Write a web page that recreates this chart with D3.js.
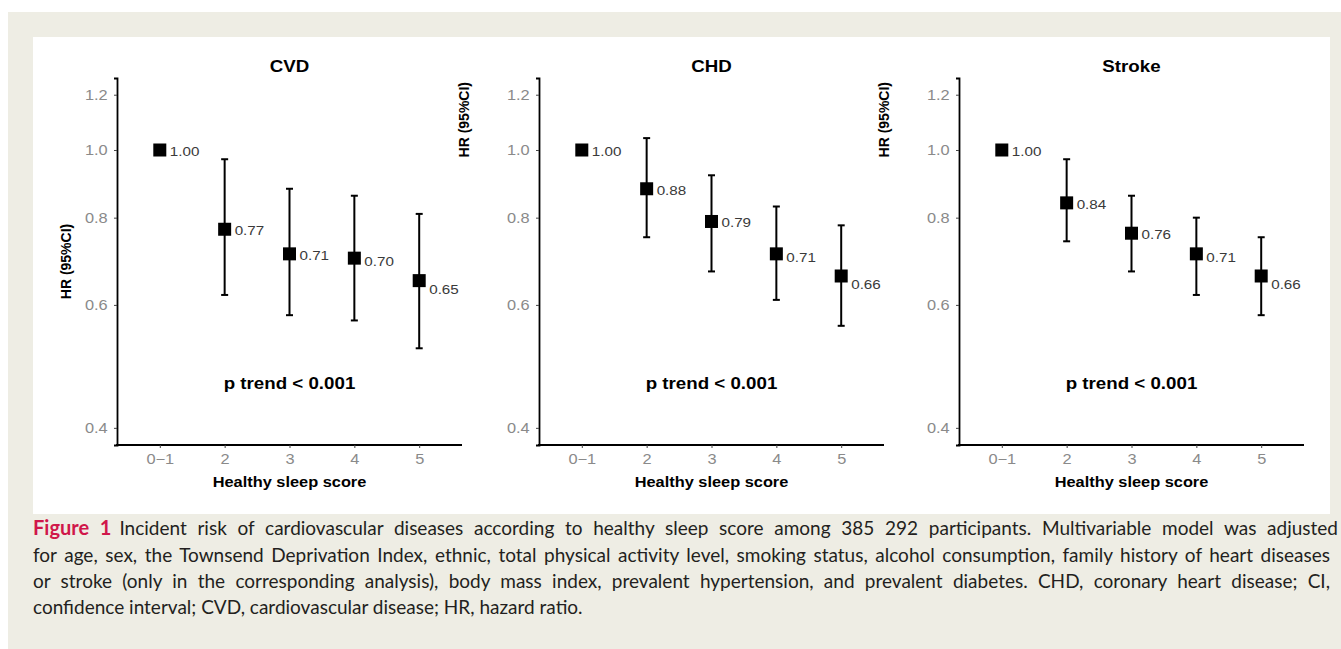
<!DOCTYPE html>
<html>
<head>
<meta charset="utf-8">
<script src="https://cdn.jsdelivr.net/npm/d3@7"></script>
<style>
  body { margin: 0; background: #fff; }
  svg { display: block; }
</style>
</head>
<body>
<div id="vis"></div>
<script>
// data
const categories = ['0\u22121', '2', '3', '4', '5'];
const panelTitles = ['CVD', 'CHD', 'Stroke'];
const hrCVD = [1.00, 0.77, 0.71, 0.70, 0.65];
const lowCVD = [null, 0.62, 0.58, 0.57, 0.52];
const highCVD = [null, 0.97, 0.88, 0.86, 0.81];
const hrCHD = [1.00, 0.88, 0.79, 0.71, 0.66];
const lowCHD = [null, 0.75, 0.67, 0.61, 0.56];
const highCHD = [null, 1.04, 0.92, 0.83, 0.78];
const hrStroke = [1.00, 0.84, 0.76, 0.71, 0.66];
const lowStroke = [null, 0.74, 0.67, 0.62, 0.58];
const highStroke = [null, 0.97, 0.86, 0.80, 0.75];
const yTicks = [0.4, 0.6, 0.8, 1.0, 1.2];
const pTrendText = 'p trend < 0.001';
const xLabel = 'Healthy sleep score';
const yLabel = 'HR (95%CI)';
const captionHead = 'Figure 1';
const captionLines = [
  'Incident risk of cardiovascular diseases according to healthy sleep score among 385 292 participants. Multivariable model was adjusted',
  'for age, sex, the Townsend Deprivation Index, ethnic, total physical activity level, smoking status, alcohol consumption, family history of heart diseases',
  'or stroke (only in the corresponding analysis), body mass index, prevalent hypertension, and prevalent diabetes. CHD, coronary heart disease; CI,',
  'confidence interval; CVD, cardiovascular disease; HR, hazard ratio.'
];

const series = [
  { hr: hrCVD, low: lowCVD, high: highCVD },
  { hr: hrCHD, low: lowCHD, high: highCHD },
  { hr: hrStroke, low: lowStroke, high: highStroke }
];

const W = 1341, H = 649;
const FONT = '"Liberation Sans", Arial, sans-serif';
const SX = 1.17; // the figure text is a bit stretched sideways

const svg = d3.select('#vis').append('svg')
  .attr('width', W)
  .attr('height', H);

// page frame
svg.append('rect').attr('x', 8).attr('y', 12).attr('width', W - 8).attr('height', H - 12).attr('fill', '#eeede4');
svg.append('rect').attr('x', 33).attr('y', 37).attr('width', 1297).attr('height', 477).attr('fill', '#fff');

// helper for stretched text
function stretchedText(g, x, y, txt) {
  return g.append('text')
    .attr('transform', `translate(${x},${y}) scale(${SX},1)`)
    .style('font-family', FONT)
    .text(txt);
}

const panelLeft = [117, 539, 959];
const panelWidth = 345;
const plotTop = 78, plotBottom = 445;

const y = d3.scaleLog()
  .domain([0.378, 1.268])
  .range([plotBottom, plotTop]);

series.forEach(function (s, p) {
  const g = svg.append('g');
  const x0 = panelLeft[p];
  const x = d3.scalePoint()
    .domain(categories)
    .range([x0, x0 + panelWidth])
    .padding(0.66);

  // y axis
  const yAxis = g.append('g')
    .attr('transform', `translate(${x0},0)`)
    .call(d3.axisLeft(y).tickValues(yTicks).tickFormat(d3.format('.1f')).tickSizeOuter(0).tickSize(3).tickPadding(5));
  yAxis.select('.domain').attr('stroke', '#000').attr('stroke-width', 1.8);
  yAxis.selectAll('.tick line').attr('stroke', '#444').attr('stroke-width', 1);
  yAxis.selectAll('.tick text')
    .attr('fill', '#8a8a8a')
    .style('font-family', FONT)
    .style('font-size', '14px')
    .attr('transform', `scale(${SX},1)`);

  // x axis
  const xAxis = g.append('g')
    .attr('transform', `translate(0,${plotBottom})`)
    .call(d3.axisBottom(x).tickSizeOuter(0).tickSize(3).tickPadding(6));
  xAxis.select('.domain').attr('stroke', '#000').attr('stroke-width', 1.8)
    .attr('d', `M${x0 - 1},0H${x0 + panelWidth}`);
  xAxis.selectAll('.tick line').attr('stroke', '#444').attr('stroke-width', 1);
  xAxis.selectAll('.tick text')
    .attr('fill', '#8a8a8a')
    .style('font-family', FONT)
    .style('font-size', '14px')
    .attr('transform', `scale(${SX},1)`);

  const cx = x0 + panelWidth / 2;

  // title
  stretchedText(g, cx, 72, panelTitles[p])
    .attr('text-anchor', 'middle')
    .style('font-size', '16px')
    .style('font-weight', 'bold');

  // x label
  stretchedText(g, cx, 487, xLabel)
    .attr('text-anchor', 'middle')
    .style('font-size', '14px')
    .style('font-weight', 'bold');

  // y label
  const yl = g.append('text')
    .style('font-family', FONT)
    .style('font-size', '14px')
    .style('font-weight', 'bold')
    .text(yLabel);
  if (p === 0) {
    yl.attr('text-anchor', 'middle')
      .attr('transform', `translate(${x0 - 46},${(plotTop + plotBottom) / 2}) rotate(-90)`);
  } else {
    yl.attr('text-anchor', 'end')
      .attr('transform', `translate(${x0 - 70},${82}) rotate(-90)`);
  }

  // p trend
  stretchedText(g, cx, 389, pTrendText)
    .attr('text-anchor', 'middle')
    .style('font-size', '16px')
    .style('font-weight', 'bold');

  const rows = categories.map((c, i) => ({ c: c, i: i, hr: s.hr[i], low: s.low[i], high: s.high[i] }));

  // error bars
  const bars = rows.filter(d => d.low != null);
  g.selectAll('.ci')
    .data(bars)
    .enter()
    .append('line')
    .attr('class', 'ci')
    .attr('x1', d => x(d.c))
    .attr('x2', d => x(d.c))
    .attr('y1', d => y(d.low))
    .attr('y2', d => y(d.high))
    .attr('stroke', '#000')
    .attr('stroke-width', 2);
  ['low', 'high'].forEach(function (k) {
    g.selectAll('.cap-' + k)
      .data(bars)
      .enter()
      .append('line')
      .attr('class', 'cap-' + k)
      .attr('x1', d => x(d.c) - 3.5)
      .attr('x2', d => x(d.c) + 3.5)
      .attr('y1', d => y(d[k]))
      .attr('y2', d => y(d[k]))
      .attr('stroke', '#000')
      .attr('stroke-width', 2);
  });

  // squares
  g.selectAll('.pt')
    .data(rows)
    .enter()
    .append('rect')
    .attr('class', 'pt')
    .attr('x', d => x(d.c) - 6.5)
    .attr('y', d => y(d.hr) - 6.5)
    .attr('width', 13)
    .attr('height', 13)
    .attr('fill', '#000');

  // value labels
  rows.forEach(function (d) {
    const dy = d.i === 4 ? 13 : (d.i === 3 ? 8 : 6);
    stretchedText(g, x(d.c) + 10, y(d.hr) + dy, d3.format('.2f')(d.hr))
      .attr('fill', '#3a3a3a')
      .style('font-size', '13px');
  });
});

// caption, justified
const capLeft = 33, capRight = 1330;
const capFont = 'Lato, "Open Sans", sans-serif';
const capY = [535, 562, 588, 614];
captionLines.forEach(function (line, i) {
  const t = svg.append('text')
    .attr('x', capLeft)
    .attr('y', capY[i])
    .attr('fill', '#231f20')
    .style('font-family', capFont)
    .style('font-size', '19px');
  if (i === 0) {
    t.append('tspan')
      .attr('fill', '#d0174a')
      .style('font-weight', 'bold')
      .style('font-size', '20px')
      .text(captionHead);
    t.append('tspan').attr('dx', 8).text(line);
  } else {
    t.text(line);
  }
  if (i < captionLines.length - 1) {
    const natural = t.node().getComputedTextLength();
    const spaces = (line.match(/ /g) || []).length + (i === 0 ? 1 : 0);
    const extra = (capRight - capLeft - natural) / spaces;
    t.attr('word-spacing', extra);
  }
});
</script>
</body>
</html>
